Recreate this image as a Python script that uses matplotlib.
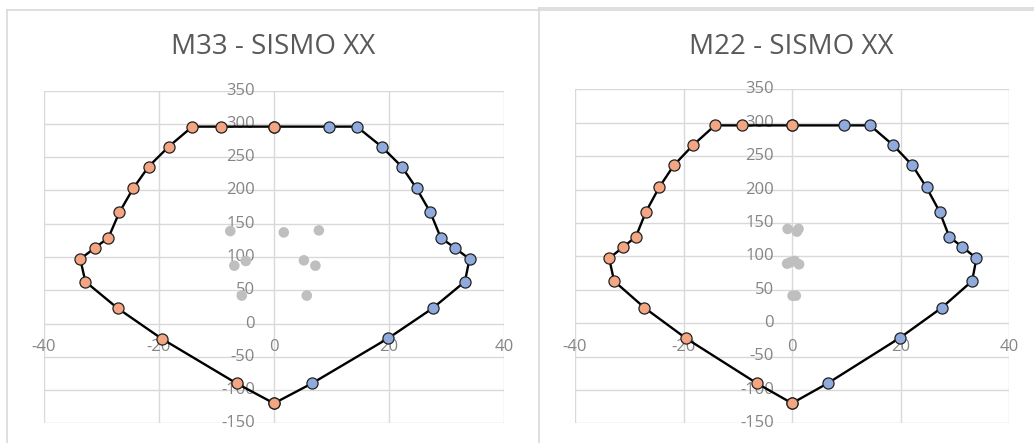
import matplotlib.pyplot as plt
from matplotlib.lines import Line2D

# Interaction diagram (capacity), shared by both panels
# left half of the envelope (orange), from top centre round to bottom centre
left_m = [0, -9.3, -14.2, -18.3, -21.8, -24.5, -26.9, -28.8, -31.1, -33.7, -32.8, -27.2, -19.5, -6.5, 0]
left_p = [296, 296, 296, 266, 236, 203, 167, 129, 114, 97, 63, 23, -23, -90, -120]
# right half (blue), from bottom centre back up to top centre
right_m = [0, 6.6, 19.9, 27.6, 33.2, 34.0, 31.4, 29.0, 27.2, 24.8, 22.2, 18.7, 14.4, 9.5, 0]
right_p = [-120, -90, -22, 23, 63, 97, 114, 129, 167, 203, 236, 266, 296, 296, 296]

# Demand points (gray)
m33_m = [-7.6, 1.7, 7.8, -6.9, -4.9, 5.2, 7.2, -5.6, 5.7]
m33_p = [139, 137, 140, 87, 94, 95, 87, 42, 42]
m22_m = [-0.8, 1.2, 0.9, -0.9, 0.5, 1.3, -0.3, 0.1, 0.7]
m22_p = [141, 141, 137, 89, 93, 88, 91, 41, 41]

titles = ["M33 - SISMO XX", "M22 - SISMO XX"]

ORANGE = "#f4a582"
BLUE = "#8faadc"
GRAY = "#bfbfbf"
GRID = "#d9d9d9"
TEXT = "#858585"

plt.rcParams["font.family"] = ["Open Sans", "DejaVu Sans"]

fig = plt.figure(figsize=(10.34, 4.43), dpi=100)

# chart-area borders
for x0, y0 in [(7, 10), (539, 8)]:
    fig.add_artist(Line2D([x0 / 1034, 1.0], [1 - y0 / 443] * 2, color=GRID, lw=1.2))
    fig.add_artist(Line2D([x0 / 1034] * 2, [0, 1 - y0 / 443], color=GRID, lw=1.2))

panels = [
    ([44 / 1034, 19.7 / 443, 460 / 1034, 332.6 / 443], m33_m, m33_p, 273),
    ([575 / 1034, 19.7 / 443, 434 / 1034, 334 / 443], m22_m, m22_p, 791),
]

for (rect, dm, dp, title_x), title in zip(panels, titles):
    ax = fig.add_axes(rect)
    ax.set_xlim(-40, 40)
    ax.set_ylim(-150, 350)
    for s in ax.spines.values():
        s.set_visible(False)
    ax.set_xticks([])
    ax.set_yticks([])
    for gx in range(-40, 41, 20):
        ax.axvline(gx, color=GRID, lw=1.0, zorder=0)
    for gy in range(-150, 351, 50):
        ax.axhline(gy, color=GRID, lw=1.0, zorder=0)

    # tick labels sit along the axes crossing at zero
    for gy in range(-150, 351, 50):
        ax.text(-3.3, gy, str(gy), ha="right", va="center", color=TEXT,
                fontsize=12, zorder=1)
    for gx in range(-40, 41, 20):
        ax.text(gx, -36, str(gx), ha="center", va="center", color=TEXT,
                fontsize=12, zorder=1)

    ax.scatter(dm, dp, s=58, color=GRAY, edgecolors="none", zorder=2)
    ax.plot(right_m, right_p, color="black", lw=1.7, marker="o", ms=8,
            mfc=BLUE, mec="#222222", mew=0.9, zorder=3)
    ax.plot(left_m, left_p, color="black", lw=1.7, marker="o", ms=8,
            mfc=ORANGE, mec="#222222", mew=0.9, zorder=4)

    fig.text(title_x / 1034, 1 - 47 / 443, title, ha="center", va="center",
             color="#595959", fontsize=20)

fig.savefig("out.png", dpi=100)
